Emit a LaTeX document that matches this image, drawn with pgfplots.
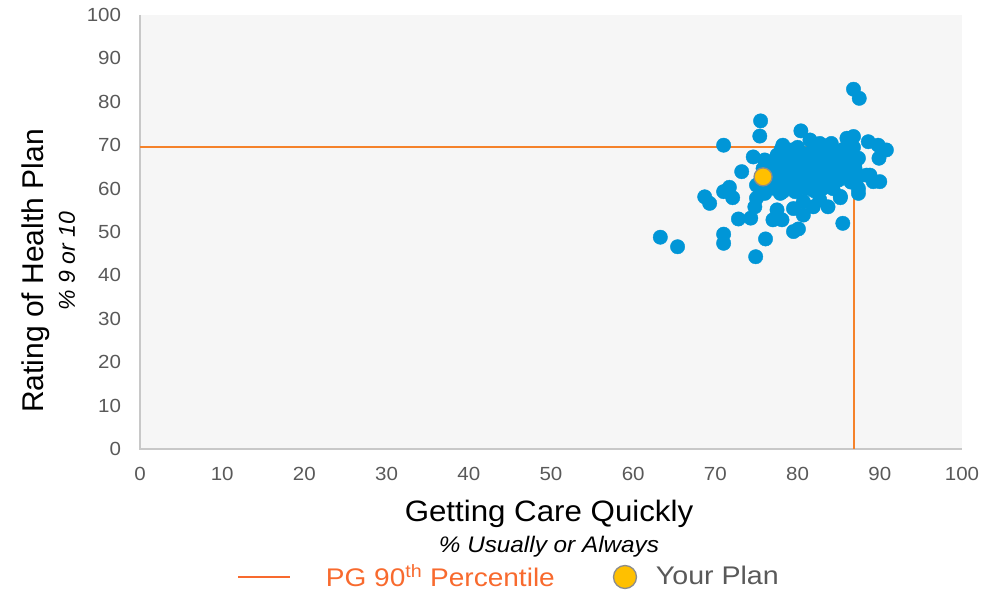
\documentclass[border=0pt]{standalone}
\usepackage{pgfplots}
\pgfplotsset{compat=1.18}
\usepackage{fontspec}
\setmainfont{Liberation Sans}
\definecolor{dotblue}{HTML}{0096D7}
\definecolor{pgorange}{HTML}{F5822A}
\definecolor{legorange}{HTML}{F86A2E}
\definecolor{yplan}{HTML}{FFC000}
\definecolor{tickgray}{HTML}{595959}
\definecolor{bggray}{HTML}{F6F6F6}
\definecolor{axgray}{HTML}{C8C8C8}
\begin{document}
\begin{tikzpicture}[x=1pt,y=1pt]
\useasboundingbox (-140,-142) rectangle (862,449);
\begin{axis}[
  at={(0,0)}, anchor=origin,
  scale only axis, width=822pt, height=434pt,
  xmin=0, xmax=100, ymin=0, ymax=100,
  xtick={0,10,...,100}, ytick={0,10,...,100},
  axis line style={draw=none},
  axis background/.style={fill=bggray},
  major tick length=0pt,
  tick label style={font=\fontsize{19}{22}\selectfont, text=tickgray, xscale=1.08},
  /pgf/number format/assume math mode=true,
  xticklabel style={yshift=-15pt},
  yticklabel style={xshift=-14pt},
  clip=false,
]
\draw[axgray, line width=1.2pt] (rel axis cs:0,1) -- (rel axis cs:0,0) -- (rel axis cs:1,0);
\addplot[only marks, color=dotblue, mark=*, mark size=7.2pt, mark options={draw=dotblue, fill=dotblue, line width=0.4pt}] coordinates {
(86.8,82.9) (87.5,80.8)
(75.5,75.6) (75.4,72.1) (71.0,70.0) (80.4,73.3)
(63.3,48.8) (65.4,46.6) (71.0,49.5) (71.0,47.4) (74.9,44.3) (76.1,48.4)
(68.7,58.1) (69.3,56.6) (71.0,59.3) (71.7,60.3) (72.1,57.9)
(72.8,53.0) (74.3,53.2) (74.8,55.8) (75.0,57.8)
(73.2,63.9) (74.6,67.3) (76.0,66.6) (75.8,64.6) (75.0,60.8) (76.0,60.2)
(77.0,60.1) (77.9,58.9) (78.7,61.2) (79.9,60.0)
(77.0,52.8) (78.1,52.8) (77.5,55.1) (79.5,50.1) (80.1,50.7) (85.5,52.0)
(80.7,53.9) (81.9,55.8) (83.7,55.8) (79.5,55.4) (80.7,57.0)
(78.2,59.3) (79.7,59.3) (76.0,58.9)
(85.2,57.9) (87.4,58.9) (88.8,63.1) (90.0,61.6) (89.2,61.6) (88.4,63.1)
(90.8,68.9) (89.8,70.0) (88.6,70.8) (89.9,67.0)
(86.8,72.0) (86.0,71.6) (87.4,67.0)
(81.5,71.2) (82.7,70.4) (84.1,70.4) (78.2,70.0) (79.3,68.9) (77.5,67.7)
(84.3,60.0) (82.3,60.0) (82.7,57.4) (87.4,60.0) (85.2,58.2)
(78,69) (79,68) (80,67) (81,66) (82,67) (83,68) (84,69) (85,68) (86,67) (86.5,66)
(85,65) (84,64) (83,63) (82,62) (81,61) (80,62) (79,63) (78,64) (78.5,65.5) (79.5,65)
(80.5,64) (81.5,63.5) (82.5,64.5) (83.5,65.5) (84.5,66.5) (85.5,69) (86,63) (85,62)
(84,61) (83,60) (82,59.5) (81,60) (80,60.5) (79,61.5) (78,62) (77,63) (77.5,61)
(76.5,64) (77,66) (78,67) (80,69.5) (82,69) (81,68) (83,66.5) (84.5,63) (86.5,61.5)
(87,64.5) (87.3,62.5) (86.8,69.5) (84,67) (82,65) (80,65) (79,66.5) (86,64.5) (85.5,66)
(83,70) (84.5,68) (86.5,68.5) (87,66) (81,64.5) (79.5,62) (76.5,62)
};
\addplot[pgorange, line width=1.8pt] coordinates {(0,69.6) (86.9,69.6) (86.9,0)};
\addplot[only marks, mark=*, mark size=9pt, mark options={draw=gray!90, line width=1.3pt, fill=yplan}] coordinates {(75.8,62.7)};
\end{axis}
% axis labels
\node[rotate=90, font=\fontsize{30}{34}\selectfont] at (-104,178) {Rating of Health Plan};
\node[rotate=90, font=\fontsize{23}{26}\itshape] at (-73,188) {\% 9 or 10};
\node[xscale=1.06, font=\fontsize{29.5}{34}\selectfont] at (409,-65) {Getting Care Quickly};
\node[xscale=1.08, font=\fontsize{22.5}{26}\itshape] at (409,-98) {\% Usually or Always};
% legend
\draw[legorange, line width=1.8pt] (98,-128) -- (150,-128);
\node[anchor=west, xscale=1.1, text=legorange, font=\fontsize{25.5}{28}\selectfont] at (182,-126.5) {PG 90\textsuperscript{th} Percentile};
\draw[gray!90, line width=1.3pt, fill=yplan] (485,-128) circle (11.5pt);
\node[anchor=west, xscale=1.12, text=tickgray, font=\fontsize{25.5}{28}\selectfont] at (512,-126.5) {Your Plan};
\end{tikzpicture}
\end{document}
